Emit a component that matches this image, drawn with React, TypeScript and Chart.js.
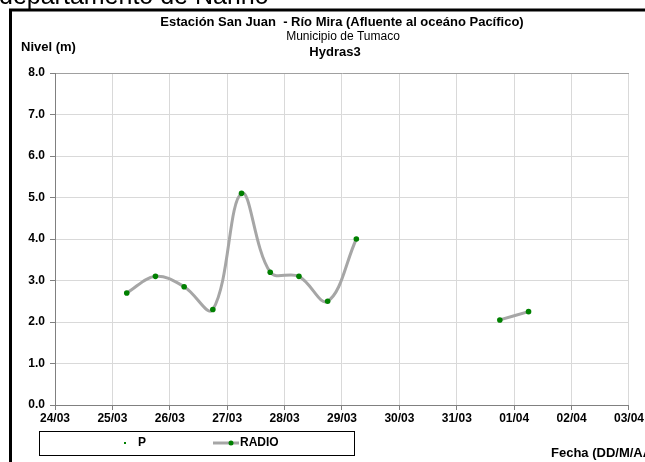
import React, { useEffect, useRef } from "react";
import { Chart, registerables } from "chart.js";

Chart.register(...registerables);

// Days since 24/03 (00:00); readings every 12 h at 06:00 / 18:00
const radioX = [1.25, 1.75, 2.25, 2.75, 3.25, 3.75, 4.25, 4.75, 5.25, 6.5, 7.75, 8.25];
const radioY: (number | null)[] = [2.7, 3.1, 2.85, 2.3, 5.1, 3.2, 3.1, 2.5, 4.0, null, 2.05, 2.25];
const pX: number[] = [];
const pY: number[] = [];
const xTickLabels = ["24/03", "25/03", "26/03", "27/03", "28/03", "29/03", "30/03", "31/03", "01/04", "02/04", "03/04"];
const titleLines = ["Estación San Juan  - Río Mira (Afluente al oceáno Pacífico)", "Municipio de Tumaco", "Hydras3"];
const pageHeading = "departamento de Nariño";
const yAxisTitle = "Nivel (m)";
const xAxisTitle = "Fecha (DD/M/AA)";

const FONT = "'Liberation Sans', Arial, sans-serif";

const decorPlugin = {
  id: "decor",
  afterDraw(chart: any) {
    const ctx = chart.ctx as CanvasRenderingContext2D;
    ctx.save();
    // page heading (cut off at top)
    ctx.fillStyle = "#000";
    ctx.font = `25px ${FONT}`;
    ctx.textAlign = "left";
    ctx.textBaseline = "alphabetic";
    ctx.fillText(pageHeading, -1, 4);
    // frame
    ctx.strokeStyle = "#000";
    ctx.lineWidth = 3;
    ctx.beginPath();
    ctx.moveTo(10.5, 470);
    ctx.lineTo(10.5, 10);
    ctx.lineTo(650, 10);
    ctx.stroke();
    // titles
    ctx.textAlign = "center";
    ctx.textBaseline = "middle";
    ctx.font = `bold 13px ${FONT}`;
    ctx.fillText(titleLines[0], 342, 22);
    ctx.font = `12px ${FONT}`;
    ctx.fillText(titleLines[1], 343, 37);
    ctx.font = `bold 13px ${FONT}`;
    ctx.fillText(titleLines[2], 335, 52);
    // axis titles
    ctx.textAlign = "left";
    ctx.font = `bold 13px ${FONT}`;
    ctx.fillText(yAxisTitle, 21, 47);
    ctx.fillText(xAxisTitle, 551, 453);
    // legend box
    ctx.strokeStyle = "#000";
    ctx.lineWidth = 1;
    ctx.strokeRect(39.5, 431.5, 315, 24);
    const ds = chart.data.datasets;
    // P legend
    ctx.fillStyle = ds[0].pointBackgroundColor;
    ctx.fillRect(124, 442, 2, 2);
    ctx.fillStyle = "#000";
    ctx.font = `bold 12px ${FONT}`;
    ctx.fillText(ds[0].label, 138, 443);
    // RADIO legend
    ctx.strokeStyle = ds[1].borderColor;
    ctx.lineWidth = 3;
    ctx.beginPath();
    ctx.moveTo(213, 443);
    ctx.lineTo(239, 443);
    ctx.stroke();
    ctx.fillStyle = ds[1].pointBackgroundColor;
    ctx.beginPath();
    ctx.arc(231, 443, 2.5, 0, Math.PI * 2);
    ctx.fill();
    ctx.fillStyle = "#000";
    ctx.fillText(ds[1].label, 240, 443);
    ctx.restore();
  },
};

export default function App() {
  const ref = useRef<HTMLCanvasElement>(null);
  useEffect(() => {
    if (!ref.current) return;
    const chart = new Chart(ref.current, {
      type: "line",
      data: {
        datasets: [
          {
            label: "P",
            data: pX.map((x, i) => ({ x, y: pY[i] })),
            showLine: false,
            pointRadius: 1.5,
            pointBackgroundColor: "#008000",
            pointBorderWidth: 0,
          },
          {
            label: "RADIO",
            data: radioX.map((x, i) => ({ x, y: radioY[i] })) as any,
            borderColor: "#a6a6a6",
            borderWidth: 3,
            tension: 0.38,
            spanGaps: false,
            pointRadius: 2.8,
            pointBackgroundColor: "#008000",
            pointBorderWidth: 0,
          },
        ],
      },
      options: {
        animation: false,
        responsive: false,
        maintainAspectRatio: false,
        layout: { padding: { left: 0, right: 16, top: 73, bottom: 37 } },
        plugins: { legend: { display: false }, tooltip: { enabled: false }, title: { display: false } },
        scales: {
          x: {
            type: "linear",
            min: 0,
            max: 10,
            afterFit: (s: any) => { s.height = 20; },
            afterBuildTicks: (s: any) => {
              s.ticks = xTickLabels.map((_, i) => ({ value: i }));
            },
            ticks: {
              autoSkip: false,
              maxRotation: 0,
              padding: 1,
              color: "#000",
              font: { family: FONT, size: 12, weight: "bold" },
              callback: (v: any) => xTickLabels[Math.round(Number(v))] ?? "",
            },
            grid: { color: "#d9d9d9", tickColor: "#808080", tickLength: 5, lineWidth: 1 },
            border: { color: "#808080" },
          },
          y: {
            min: 0,
            max: 8,
            afterFit: (s: any) => { s.width = 55; },
            ticks: {
              stepSize: 1,
              padding: 5,
              color: "#000",
              font: { family: FONT, size: 12, weight: "bold" },
              callback: (v: any) => Number(v).toFixed(1),
            },
            grid: { color: (c: any) => (c.tick && c.tick.value === 8 ? "#a0a0a0" : "#d9d9d9"), tickColor: "#808080", tickLength: 5 },
            border: { color: "#808080" },
          },
        },
      },
      plugins: [decorPlugin],
    });
    return () => chart.destroy();
  }, []);
  return (
    <div style={{ position: "absolute", left: 0, top: 0, width: 645, height: 462, background: "#fff" }}>
      <canvas ref={ref} width={645} height={462} style={{ width: 645, height: 462, display: "block" }} />
    </div>
  );
}
